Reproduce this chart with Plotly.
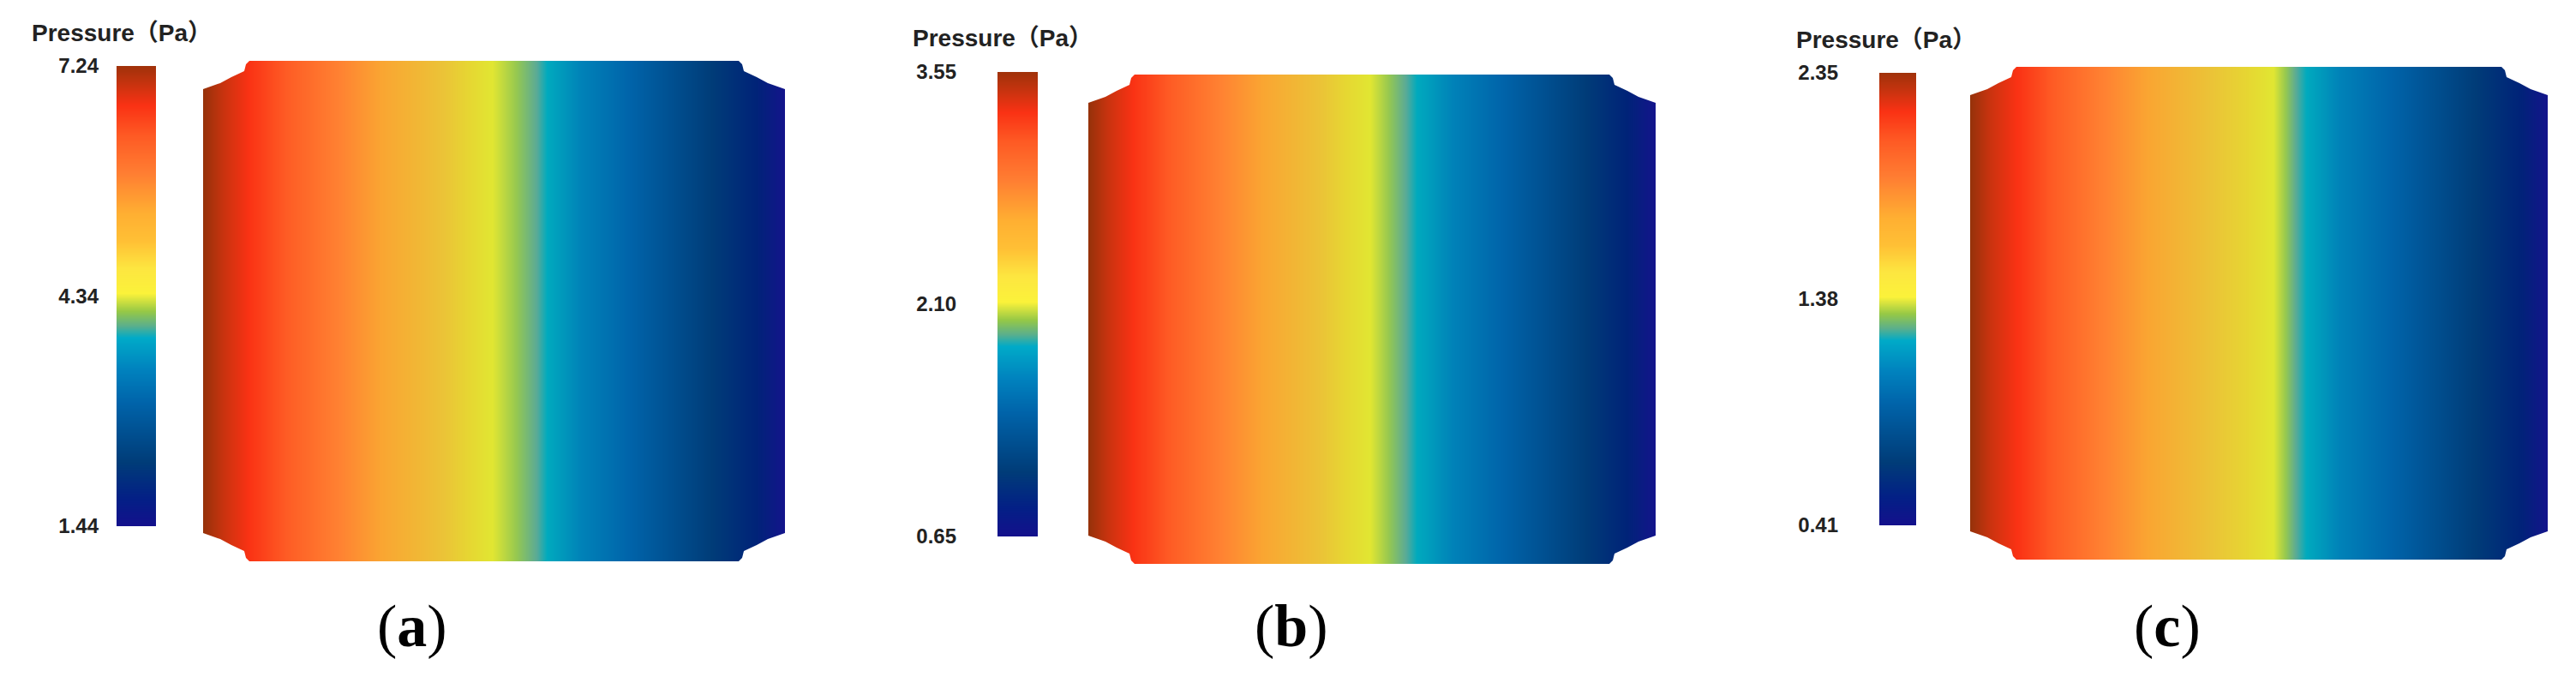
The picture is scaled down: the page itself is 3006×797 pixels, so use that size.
import plotly.graph_objects as go

W, H = 3006, 797

# legend bar colours, position 0 = bottom, 1 = top
bar_colors = [
    [0.00, "#14108c"], [0.06, "#031f86"], [0.14, "#003c78"], [0.27, "#0064aa"],
    [0.34, "#0082be"], [0.41, "#00aac8"], [0.436, "#5aaf8c"], [0.467, "#96c846"],
    [0.506, "#fbf23a"], [0.56, "#fde640"], [0.62, "#ffc035"], [0.68, "#ffaf32"],
    [0.77, "#ff7d32"], [0.85, "#fe5a24"], [0.914, "#fa3214"], [0.96, "#c8330f"], [1.00, "#a0320a"],
]
# the plate is a little duller than the bar around the yellow
plate_colors = [
    [0.00, "#14148c"], [0.06, "#002378"], [0.14, "#003c78"], [0.27, "#0064aa"],
    [0.34, "#0082b8"], [0.41, "#00aabe"], [0.436, "#5aaa96"], [0.467, "#96c850"],
    [0.506, "#e1e632"], [0.56, "#e6d732"], [0.60, "#ebc337"], [0.68, "#faa532"],
    [0.77, "#ff8232"], [0.85, "#fe5a24"], [0.91, "#fa3214"], [0.96, "#c8330f"], [1.00, "#96320a"],
]

panel_letters = ["a", "b", "c"]
title_text = "Pressure（Pa）"

# legend tick labels per panel
ticks_a = [1.44, 4.34, 7.24]
ticks_b = [0.65, 2.10, 3.55]
ticks_c = [0.41, 1.38, 2.35]

# pressure across the plate, read through the legend colours
x_a = [0.0, 0.034, 0.078, 0.15, 0.234, 0.306, 0.412, 0.458, 0.498, 0.537, 0.573, 0.59, 0.65, 0.73, 0.875, 0.95, 1.0]
p_a = [7.24, 7.01, 6.72, 6.31, 5.91, 5.38, 4.92, 4.69, 4.37, 4.15, 3.97, 3.82, 3.41, 3.01, 2.25, 1.79, 1.44]

x_b = [0.0, 0.034, 0.078, 0.15, 0.234, 0.306, 0.41, 0.455, 0.495, 0.53, 0.56, 0.578, 0.64, 0.73, 0.875, 0.95, 1.0]
p_b = [3.55, 3.43, 3.29, 3.09, 2.88, 2.62, 2.39, 2.27, 2.12, 2.00, 1.91, 1.84, 1.64, 1.43, 1.06, 0.82, 0.65]

x_c = [0.0, 0.034, 0.078, 0.15, 0.234, 0.306, 0.42, 0.48, 0.525, 0.545, 0.562, 0.58, 0.64, 0.73, 0.875, 0.95, 1.0]
p_c = [2.35, 2.27, 2.18, 2.04, 1.90, 1.73, 1.57, 1.50, 1.39, 1.32, 1.26, 1.21, 1.07, 0.93, 0.68, 0.53, 0.41]

# pixel boxes: legend bar, plate, label anchors
bar_boxes = [(136, 182, 77, 614), (1164, 1211, 84, 626), (2193, 2236, 85, 613)]
plate_boxes = [(237, 916, 71, 655), (1270, 1932, 87, 658), (2299, 2973, 78, 653)]
tick_standoff = [20, 47, 47]
title_pos = [(142, 38), (1170, 44), (2201, 46)]
caption_pos = [(481, 730), (1507, 730), (2529, 730)]

# cut-out at each plate corner, px from the corner (along width, along height)
corner_cut = [(-3, -3), (54, -3), (54, 0), (50, 4), (48, 12), (33, 19), (20, 26), (0, 33), (-3, 33)]


def fx(px):
    return px / W


def fy(py):
    return 1 - py / H


fig = go.Figure()
panels = [(x_a, p_a, ticks_a), (x_b, p_b, ticks_b), (x_c, p_c, ticks_c)]
shapes = []
annotations = []

for i, (xs, ps, ticks) in enumerate(panels):
    k = i * 2 + 1
    lo, hi = ticks[0], ticks[2]
    levels = [lo + (hi - lo) * s for s, _ in bar_colors]

    x0, x1, y0, y1 = bar_boxes[i]
    fig.add_trace(go.Heatmap(
        x=[0, 1], y=levels, z=[[v, v] for v in levels],
        zmin=lo, zmax=hi, colorscale=bar_colors,
        zsmooth="best", showscale=False, hoverinfo="skip",
        xaxis=f"x{k}", yaxis=f"y{k}",
    ))
    fig.layout[f"xaxis{k}"] = dict(domain=[fx(x0), fx(x1)], range=[0, 1], visible=False)
    fig.layout[f"yaxis{k}"] = dict(
        domain=[fy(y1), fy(y0)], range=[lo, hi], anchor=f"x{k}",
        tickmode="array", tickvals=ticks, ticktext=[f"{t:.2f}" for t in ticks],
        ticks="", showgrid=False, zeroline=False, showline=False,
        ticklabelstandoff=tick_standoff[i],
        tickfont=dict(family="Liberation Sans", size=24, color="#222222", weight=700),
    )

    x0, x1, y0, y1 = plate_boxes[i]
    fig.add_trace(go.Heatmap(
        x=xs, y=[0, 1], z=[ps, ps],
        zmin=lo, zmax=hi, colorscale=plate_colors,
        zsmooth="best", showscale=False, hoverinfo="skip",
        xaxis=f"x{k + 1}", yaxis=f"y{k + 1}",
    ))
    fig.layout[f"xaxis{k + 1}"] = dict(domain=[fx(x0), fx(x1)], range=[0, 1], visible=False)
    fig.layout[f"yaxis{k + 1}"] = dict(domain=[fy(y1), fy(y0)], range=[0, 1], visible=False, anchor=f"x{k + 1}")

    # white masks give the plate its notched corners
    for cx, cy, sx, sy in [(x0, y0, 1, 1), (x1, y0, -1, 1), (x0, y1, 1, -1), (x1, y1, -1, -1)]:
        pts = [(fx(cx + sx * dx), fy(cy + sy * dy)) for dx, dy in corner_cut]
        path = "M " + " L ".join(f"{a:.5f},{b:.5f}" for a, b in pts) + " Z"
        shapes.append(dict(type="path", path=path, xref="paper", yref="paper",
                           fillcolor="white", line=dict(width=0), layer="above"))

    tx, ty = title_pos[i]
    annotations.append(dict(
        x=fx(tx), y=fy(ty), xref="paper", yref="paper", xanchor="center", yanchor="middle",
        text=title_text, showarrow=False,
        font=dict(family="Liberation Sans, Noto Sans CJK SC", size=28, color="#222222", weight=700),
    ))
    cx, cy = caption_pos[i]
    annotations.append(dict(
        x=fx(cx), y=fy(cy), xref="paper", yref="paper", xanchor="center", yanchor="middle",
        text=f"(<b>{panel_letters[i]}</b>)", showarrow=False,
        font=dict(family="Liberation Serif", size=70, color="black"),
    ))

fig.update_layout(
    width=W, height=H, margin=dict(l=0, r=0, t=0, b=0, pad=0, autoexpand=False),
    paper_bgcolor="white", plot_bgcolor="white", showlegend=False,
    shapes=shapes, annotations=annotations,
)

fig.write_html("out.html", config={"displayModeBar": False},
               post_script="document.body.style.margin='0';")
